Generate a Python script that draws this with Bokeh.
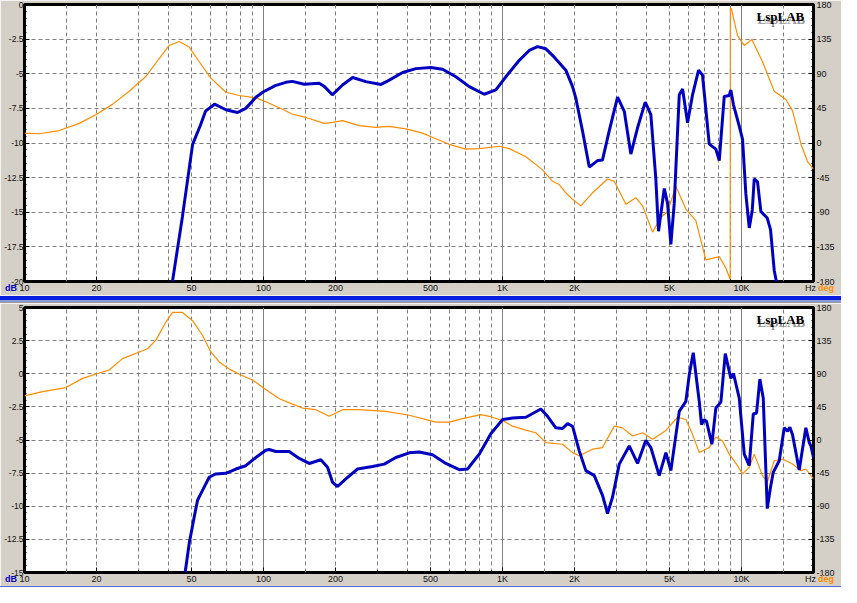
from bokeh.plotting import figure
from bokeh.models import Range1d, LinearAxis, FixedTicker, Grid, Label, Div
from bokeh.layouts import column
from bokeh.embed import file_html
from bokeh.resources import INLINE

# ---------------- data ----------------
top_mag_freq = [41.6, 45.8, 50.5, 54.5, 57.2, 62.4, 69.6, 77.8, 84.3, 92.9,
                100, 112, 124, 132, 148, 171, 180, 194, 214, 236,
                268, 310, 330, 382, 434, 501, 561, 638, 726, 838,
                938, 1032, 1175, 1293, 1401, 1518, 1646, 1840, 1963, 2026, 2161, 2306,
                2498, 2620, 2795, 3029, 3231, 3442, 3672, 3955, 4174, 4378,
                4494, 4750, 4903, 5061, 5229, 5488, 5665, 5945, 6237, 6609,
                6866, 7326, 7808, 8067, 8465, 8880, 9020, 9252, 9781, 10097,
                10420, 10770, 11090, 11300, 11665, 12050, 12810, 13220, 13700, 14010]
top_mag_db = [-20.0, -15.3, -10.1, -8.7, -7.7, -7.2, -7.6, -7.8, -7.5, -6.7,
              -6.3, -5.86, -5.62, -5.55, -5.76, -5.69, -5.93, -6.52, -5.81, -5.27,
              -5.57, -5.77, -5.53, -4.91, -4.63, -4.55, -4.67, -5.22, -5.93, -6.48,
              -6.17, -5.22, -4.03, -3.32, -3.04, -3.2, -3.8, -4.74, -5.93, -6.76, -9.13, -11.74,
              -11.27, -11.22, -9.13, -6.69, -7.71, -10.8, -8.9, -7.05, -7.95, -12.58,
              -16.37, -13.29, -14.36, -17.32, -14.36, -6.52, -6.1, -8.54, -6.52, -4.74,
              -5.1, -10.08, -10.44, -11.27, -6.64, -6.57, -6.17, -7.24, -8.78, -9.73,
              -13.64, -16.13, -14.83, -12.58, -12.81, -14.95, -15.42, -16.25, -19.2, -20.05]

top_phase_freq = [10, 11.52, 13.97, 16.94, 19.87, 23.34, 27.42, 32.18, 36.61, 40.31,
                  44.39, 48.89, 53.83, 60.2, 69.6, 79.1, 92.9, 102.2, 120.1, 132.2,
                  150.3, 179.5, 194.4, 214.1, 251.4, 295, 335.7, 393.9, 462.8, 526,
                  598.4, 702.2, 798.9, 968.8, 1067, 1252, 1471, 1619, 1727, 1840,
                  1963, 2126, 2380, 2750, 2934, 3281, 3612, 3853, 4243, 4597,
                  4903, 5312, 5848, 6439, 7089, 8067, 8597, 8966, 8980, 9081,
                  9623, 10264, 11045, 12240, 13700, 15324, 16351, 17705, 18887, 20000]
top_phase_deg = [12.8, 12.0, 16.2, 25.5, 36.6, 50.2, 67.3, 86.4, 109.8, 126.8,
                 131.9, 124.7, 105.6, 84.3, 66.0, 61.7, 58.7, 53.6, 43.8, 37.4,
                 33.2, 25.5, 26.8, 29.0, 22.6, 20.4, 21.7, 18.3, 12.8, 5.5,
                 -1.7, -8.0, -7.3, -4.2, -7.3, -17.9, -34.9, -49.8, -54.0, -64.7,
                 -73.2, -81.7, -64.7, -46.8, -49.8, -79.5, -71.1, -81.7, -115.8, -96.6,
                 -89.4, -56.2, -85.9, -100.9, -151.9, -147.7, -162.5, -177.5, 176.0, 173.6,
                 139.5, 126.8, 134.4, 105.6, 67.3, 56.6, 41.7, -0.9, -24.3, -34.1]

bottom_mag_freq = [47.0, 48.89, 51.3, 52.97, 55.56, 59.27, 63.15, 69.6, 76.6, 84.3,
                   92.9, 102.2, 105.6, 112.6, 128.1, 141.1, 155.3, 173.7, 185.3, 194.4,
                   204, 221, 247.4, 285.8, 319.9, 357.8, 407, 448.1, 509.4, 579.3,
                   658.9, 713.9, 798.9, 893.4, 1000, 1101, 1252, 1446, 1543, 1671,
                   1782, 1871, 1963, 2094, 2231, 2420, 2620, 2750, 2886, 3079,
                   3389, 3672, 3978, 4174, 4524, 4825, 5061, 5488, 5848, 6040,
                   6279, 6653, 6800, 6982, 7138, 7511, 7808, 8194, 8549, 9020, 9252, 9781,
                   10264, 10770, 11194, 11556, 11929, 12325, 12810, 13220, 13570, 14380,
                   15090, 15580, 15930, 16351, 17430, 18580, 19200, 19500, 20000]
bottom_mag_db = [-15.0, -12.79, -10.8, -9.55, -8.8, -7.81, -7.56, -7.51, -7.19, -6.94,
                 -6.32, -5.77, -5.72, -5.87, -5.87, -6.39, -6.77, -6.49, -7.06, -8.19,
                 -8.51, -7.93, -7.19, -7.0, -6.82, -6.32, -5.97, -5.9, -6.12, -6.77,
                 -7.24, -7.19, -6.07, -4.53, -3.46, -3.34, -3.28, -2.66, -3.21, -4.08,
                 -4.13, -3.76, -3.96, -5.82, -7.31, -7.69, -9.18, -10.55, -9.3, -6.82,
                 -5.45, -6.77, -5.02, -5.57, -7.69, -5.95, -7.31, -2.84, -2.09, -0.1,
                 1.59, -2.09, -3.83, -3.46, -3.6, -5.32, -2.59, -2.14, 1.52, -0.35, 0.02, -1.84,
                 -6.07, -6.94, -3.04, -2.96, -0.4, -1.84, -10.18, -8.56, -7.44, -6.57,
                 -4.08, -4.33, -4.03, -4.63, -7.26, -4.08, -5.2, -5.45, -6.32]

bottom_phase_freq = [10, 11.9, 14.9, 17.5, 20.2, 22.6, 25.7, 30.2, 32.7, 35.4,
                     39.0, 41.6, 45.8, 50.5, 55.6, 60.2, 65.3, 71.9, 80.4, 89.9,
                     100.4, 116.4, 132.2, 145.6, 165.5, 188.3, 214.1, 251.4, 324.9, 407,
                     526, 598.4, 680.1, 811.3, 879.8, 1000, 1101, 1252, 1378, 1518,
                     1782, 1963, 2094, 2380, 2620, 2934, 3178, 3499, 3853, 4243,
                     4825, 5398, 5848, 6237, 6653, 7326, 7808, 8328, 8884, 9623,
                     10097, 10770, 11300, 12240, 12810, 13700, 14840, 16351, 17705, 18580,
                     20000]
bottom_phase_deg = [60.0, 65.8, 71.2, 83.7, 90.4, 95.0, 110.6, 119.6, 124.0, 135.3,
                    159.9, 173.3, 173.3, 162.1, 142.0, 119.6, 106.1, 96.3, 88.3, 81.5,
                    70.3, 56.0, 48.8, 43.4, 41.2, 32.2, 41.2, 41.2, 39.0, 33.6,
                    24.2, 24.2, 29.1, 34.5, 32.2, 26.4, 18.8, 13.4, 9.8, -3.6,
                    -5.8, -17.1, -21.5, -12.5, -10.3, 18.8, 16.5, 5.4, 9.8, 0.9,
                    13.0, 30.9, 27.8, 7.7, -17.1, -10.3, 4.0, -1.3, -19.2, -34.9,
                    -46.1, -37.2, -19.2, -48.4, -57.4, -28.2, -25.9, -32.6, -41.6, -39.4,
                    -52.8]

freq_tick_values = [10, 20, 50, 100, 200, 500, 1000, 2000, 5000, 10000]
freq_tick_labels = ["10", "20", "50", "100", "200", "500", "1K", "2K", "5K", "10K"]
top_db_ticks = [-20, -17.5, -15, -12.5, -10, -7.5, -5, -2.5, 0]
top_db_labels = ["-20", "-17.5", "-15", "-12.5", "-10", "-7.5", "-5", "-2.5", "0"]
bottom_db_ticks = [-15, -12.5, -10, -7.5, -5, -2.5, 0, 2.5, 5]
bottom_db_labels = ["-15", "-12.5", "-10", "-7.5", "-5", "-2.5", "0", "2.5", "5"]
deg_ticks = [-180, -135, -90, -45, 0, 45, 90, 135, 180]
deg_labels = ["-180", "-135", "-90", "-45", "0", "45", "90", "135", "180"]
unit_labels = ["dB", "Hz", "deg"]

# ---------------- styling ----------------
GRAY = "#d4d0c8"
BLUE = "#0000c0"
ORANGE = "#ff8c00"
GRIDC = "#808080"
FONT = "Liberation Sans"
W = 841

decades = [10, 100, 1000, 10000]
minor_freqs = [m * d for d in decades for m in range(1, 10) if m * d <= 20000]
dashed_freqs = [m * d for d in decades for m in (1.5, 2, 3, 4, 5, 6, 7, 8, 9) if m * d < 20000]
solid_freqs = [100, 1000, 10000]


def style_axis(ax, standoff, size="9px"):
    ax.axis_line_color = None
    ax.major_tick_line_color = "black"
    ax.minor_tick_line_color = "black"
    ax.major_tick_in = 5
    ax.major_tick_out = 0
    ax.minor_tick_in = 2
    ax.minor_tick_out = 0
    ax.major_label_text_font = FONT
    ax.major_label_text_font_size = size
    ax.major_label_text_color = "#111111"
    ax.major_label_standoff = standoff


def make_panel(mag_f, mag_db, ph_f, ph_deg, db_ticks, db_labels, height, border_top):
    lo, hi = db_ticks[0], db_ticks[-1]
    p = figure(width=W, height=height, title=None, x_axis_type="log",
               x_range=Range1d(10, 20000), y_range=Range1d(lo, hi),
               output_backend="svg", toolbar_location=None,
               min_border_left=24, min_border_right=28,
               min_border_top=border_top, min_border_bottom=12,
               background_fill_color="white", border_fill_color=GRAY,
               outline_line_color="black", outline_line_width=3)
    p.extra_y_ranges = {"deg": Range1d(-180, 180)}
    p.xgrid.visible = False
    p.ygrid.visible = False

    p.xaxis.ticker = FixedTicker(ticks=freq_tick_values, minor_ticks=minor_freqs)
    p.xaxis.major_label_overrides = dict(zip(freq_tick_values, freq_tick_labels))
    p.yaxis.ticker = FixedTicker(ticks=db_ticks,
                                 minor_ticks=[lo + 0.5 * i for i in range(int((hi - lo) / 0.5) + 1)])
    p.yaxis.major_label_overrides = dict(zip(db_ticks, db_labels))
    right = LinearAxis(y_range_name="deg",
                       ticker=FixedTicker(ticks=deg_ticks, minor_ticks=[-180 + 9 * i for i in range(41)]),
                       major_label_overrides=dict(zip(deg_ticks, deg_labels)))
    p.add_layout(right, "right")
    style_axis(p.xaxis[0], 1)
    style_axis(p.yaxis[0], 1, "8.5px")
    style_axis(right, 3)

    p.add_layout(Grid(dimension=0, ticker=FixedTicker(ticks=dashed_freqs),
                      grid_line_color=GRIDC, grid_line_dash="4 3", grid_line_width=1))
    p.add_layout(Grid(dimension=0, ticker=FixedTicker(ticks=solid_freqs),
                      grid_line_color=GRIDC, grid_line_width=1))
    p.add_layout(Grid(dimension=1, ticker=FixedTicker(ticks=db_ticks[1:-1]),
                      grid_line_color=GRIDC, grid_line_dash="4 3", grid_line_width=1))

    p.line(ph_f, ph_deg, y_range_name="deg", line_color=ORANGE, line_width=1.2)
    p.line(mag_f, mag_db, line_color=BLUE, line_width=3)

    # logo with shadow
    for col, dx, dy in (("#9a9a9a", 1, -3), ("#000000", 0, 0)):
        p.add_layout(Label(x=18300, y=hi, x_offset=dx, y_offset=-4 + dy, text="LspLAB",
                           text_align="right", text_baseline="top",
                           text_font="Liberation Serif", text_font_style="bold",
                           text_font_size="13px", text_color=col))
    return p


def unit_row(height, lift, gradient):
    # bar under each panel; the unit captions sit on the axis-label row just above it
    spans = (
        f'<span style="position:absolute;left:5px;top:{-lift}px;color:{BLUE};font-weight:bold;">{unit_labels[0]}</span>'
        f'<span style="position:absolute;left:805px;top:{-lift}px;color:#111111;">{unit_labels[1]}</span>'
        f'<span style="position:absolute;left:818px;top:{-lift}px;color:{ORANGE};font-weight:bold;">{unit_labels[2]}</span>'
    )
    html = (f'<div style="position:relative;display:block;width:{W}px;height:{height}px;'
            f'font-family:\'Liberation Sans\';font-size:9px;line-height:10px;overflow:visible;">{spans}</div>')
    return Div(text=html, width=W, height=height, margin=(0, 0, 0, 0),
               styles={"background": gradient, "overflow": "visible", "z-index": "5",
                       "font-size": "0px", "line-height": "0px"})


top = make_panel(top_mag_freq, top_mag_db, top_phase_freq, top_phase_deg,
                 top_db_ticks, top_db_labels, height=295, border_top=4)
bottom = make_panel(bottom_mag_freq, bottom_mag_db, bottom_phase_freq, bottom_phase_deg,
                    bottom_db_ticks, bottom_db_labels, height=283, border_top=4)

bar_grad = ("linear-gradient(to bottom, #f4f2ea 0%, #f4f2ea 12%, #0a1ee0 12%, #0a1ee0 62%, "
            "#8a9ad8 62%, #8a9ad8 87%, #9a9a9a 87%, #9a9a9a 100%)")
low_grad = "linear-gradient(to bottom, #5a68d8 0%, #5a68d8 100%)"
bar1 = unit_row(8, 12, bar_grad)
bar2 = unit_row(1, 12, low_grad)

layout = column(top, bar1, bottom, bar2, spacing=0)

open("out.html", "w").write(file_html(layout, INLINE))
